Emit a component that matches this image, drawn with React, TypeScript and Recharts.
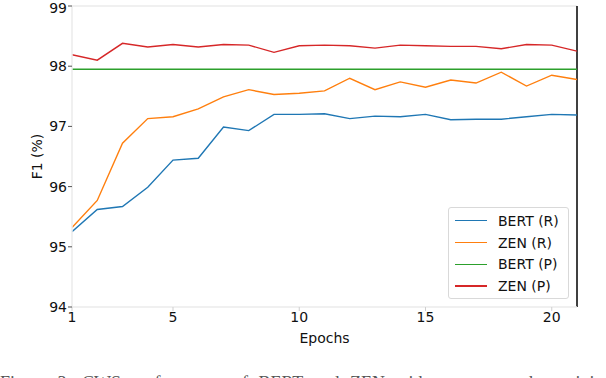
import { LineChart, Line, XAxis, YAxis, ReferenceLine, Legend, Label } from "recharts";

// Epochs 1..21, values (F1 %).
const epochs = [1, 2, 3, 4, 5, 6, 7, 8, 9, 10, 11, 12, 13, 14, 15, 16, 17, 18, 19, 20, 21];
const bertR = [95.25, 95.62, 95.67, 95.99, 96.44, 96.47, 96.99, 96.93, 97.2, 97.2, 97.21, 97.13, 97.17, 97.16, 97.2, 97.11, 97.12, 97.12, 97.16, 97.2, 97.19];
const zenR = [95.32, 95.77, 96.72, 97.13, 97.16, 97.29, 97.49, 97.61, 97.53, 97.55, 97.59, 97.8, 97.61, 97.74, 97.65, 97.77, 97.72, 97.9, 97.67, 97.85, 97.78];
const bertP = [97.95, 97.95, 97.95, 97.95, 97.95, 97.95, 97.95, 97.95, 97.95, 97.95, 97.95, 97.95, 97.95, 97.95, 97.95, 97.95, 97.95, 97.95, 97.95, 97.95, 97.95];
const zenP = [98.19, 98.1, 98.38, 98.32, 98.36, 98.32, 98.36, 98.35, 98.23, 98.34, 98.35, 98.34, 98.3, 98.35, 98.34, 98.33, 98.33, 98.29, 98.36, 98.35, 98.25];
const xTicks = [1, 5, 10, 15, 20];
const yTicks = [94, 95, 96, 97, 98, 99];

const SERIES = [
  { key: "bertR", name: "BERT (R)", color: "#1f77b4" },
  { key: "zenR", name: "ZEN (R)", color: "#ff7f0e" },
  { key: "bertP", name: "BERT (P)", color: "#2ca02c" },
  { key: "zenP", name: "ZEN (P)", color: "#d62728" },
];

const FONT = "'DejaVu Sans', sans-serif";

const rows = epochs.map((epoch, i) => ({
  epoch,
  bertR: bertR[i],
  zenR: zenR[i],
  bertP: bertP[i],
  zenP: zenP[i],
}));

// matplotlib-style legend box; keeps plotting order instead of Recharts' sorted payload
function LegendBox() {
  return (
    <div
      style={{
        width: 121,
        height: 92,
        boxSizing: "border-box",
        border: "1px solid #d9d9d9",
        borderRadius: 3,
        background: "rgba(255,255,255,0.85)",
        paddingTop: 2,
      }}
    >
      {SERIES.map((s) => (
        <div key={s.key} style={{ display: "flex", alignItems: "center", height: 21.7 }}>
          <span style={{ display: "inline-block", marginLeft: 6, width: 32, height: 1.2, background: s.color }} />
          <span style={{ marginLeft: 11, fontFamily: FONT, fontSize: 14, color: "#111" }}>{s.name}</span>
        </div>
      ))}
    </div>
  );
}

export default function App() {
  return (
    <div style={{ position: "absolute", left: 0, top: 0, width: 606, height: 378, background: "#fff", overflow: "hidden" }}>
      <LineChart width={606} height={378} data={rows} margin={{ top: 6, right: 29, left: 2, bottom: 9 }}>
        <XAxis
          dataKey="epoch"
          type="number"
          domain={[1, 21]}
          ticks={xTicks}
          allowDataOverflow
          axisLine={{ stroke: "#ebebeb", strokeWidth: 1.5 }}
          tickLine={{ stroke: "#cfcfcf" }}
          tickSize={4}
          tickMargin={1}
          height={62}
          tick={{ fontFamily: FONT, fontSize: 14, fill: "#111" }}
        >
          <Label value="Epochs" position="center" style={{ fontFamily: FONT, fontSize: 14, fill: "#111" }} />
        </XAxis>
        <YAxis
          type="number"
          domain={[94, 99]}
          ticks={yTicks}
          allowDataOverflow
          width={70}
          axisLine={{ stroke: "#ebebeb", strokeWidth: 1.5 }}
          tickLine={{ stroke: "#555" }}
          tickSize={4}
          tickMargin={1}
          tick={{ fontFamily: FONT, fontSize: 14, fill: "#111" }}
        >
          <Label value="F1 (%)" angle={-90} position="center" style={{ fontFamily: FONT, fontSize: 14, fill: "#111" }} />
        </YAxis>
        <ReferenceLine y={99} stroke="#ebebeb" strokeWidth={1.5} />
        <ReferenceLine x={21} stroke="#000" strokeWidth={1.5} />
        {SERIES.map((s) => (
          <Line
            key={s.key}
            dataKey={s.key}
            name={s.name}
            stroke={s.color}
            strokeWidth={1.4}
            dot={false}
            activeDot={false}
            isAnimationActive={false}
          />
        ))}
        <Legend
          layout="horizontal"
          verticalAlign="middle"
          align="center"
          content={<LegendBox />}
          wrapperStyle={{ position: "absolute", left: 448, top: 207, width: 121, height: 92 }}
        />
      </LineChart>
      <div
        style={{
          position: "absolute",
          left: 0,
          top: 374,
          whiteSpace: "nowrap",
          fontFamily: "'Liberation Serif', serif",
          fontSize: 18,
          lineHeight: "18px",
          color: "#555",
          wordSpacing: 6,
        }}
      >
        Figure 3: CWS performance of BERT and ZEN with respect to the training epochs.
      </div>
    </div>
  );
}
